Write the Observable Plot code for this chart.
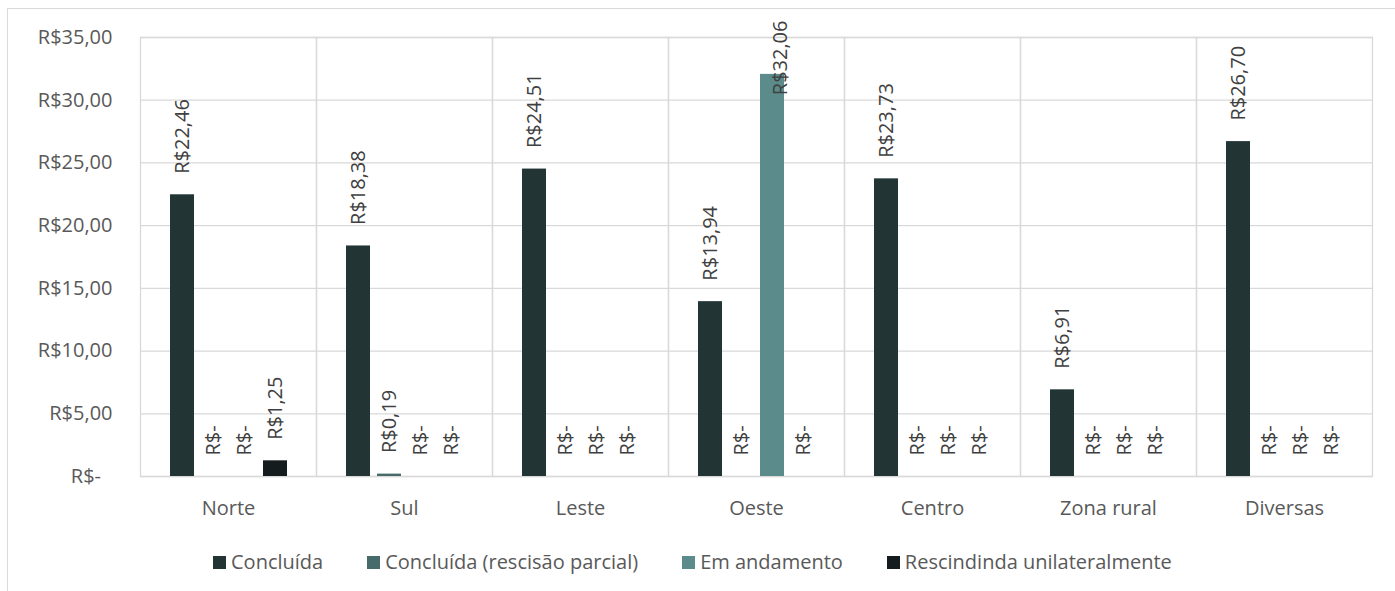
<!DOCTYPE html>
<html>
<head>
<meta charset="utf-8">
<script src="https://cdn.jsdelivr.net/npm/d3@7"></script>
<script src="https://cdn.jsdelivr.net/npm/@observablehq/plot@0.6"></script>
<style>
  html, body { margin: 0; padding: 0; background: #fff; }
  #wrap { position: relative; width: 1395px; height: 591px; overflow: hidden; font-family: "Open Sans", sans-serif; }
  #box { position: absolute; left: 7px; top: 8px; width: 1400px; height: 600px; border: 1.5px solid #d9d9d9; box-sizing: border-box; }
  #chart { position: absolute; left: 0; top: 0; }
  #legend { position: absolute; left: 213px; top: 550px; display: flex; gap: 44px; align-items: center; font-size: 20px; line-height: 24px; color: #595959; }
  .item { display: flex; align-items: center; gap: 5px; }
  .sw { width: 13px; height: 13px; display: inline-block; }
</style>
</head>
<body>
<div id="wrap">
  <div id="box"></div>
  <div id="chart"></div>
  <div id="legend"></div>
</div>
<script>
const regions = ["Norte", "Sul", "Leste", "Oeste", "Centro", "Zona rural", "Diversas"];
const series = ["Concluída", "Concluída (rescisão parcial)", "Em andamento", "Rescindinda unilateralmente"];
const concluida = [22.46, 18.38, 24.51, 13.94, 23.73, 6.91, 26.70];
const parcial = [0, 0.19, 0, 0, 0, 0, 0];
const andamento = [0, 0, 0, 32.06, 0, 0, 0];
const rescindida = [1.25, 0, 0, 0, 0, 0, 0];
const colors = ["#223434", "#476b6b", "#5b8b8b", "#141c1d"];
const yTicks = [0, 5, 10, 15, 20, 25, 30, 35];

const seriesValues = [concluida, parcial, andamento, rescindida];
const data = [];
regions.forEach((r, i) => {
  series.forEach((s, j) => data.push({region: r, series: s, value: seriesValues[j][i]}));
});

const fmt = v => v === 0 ? "R$-" : "R$" + v.toFixed(2).replace(".", ",");
const axisFmt = v => v === 0 ? "R$-\u2007" : "R$" + v.toFixed(2).replace(".", ",");

const TOPCUT = 30;

const chart = Plot.plot({
  width: 1395,
  height: 530,
  marginLeft: 138,
  marginRight: 21,
  marginTop: 37,
  marginBottom: 54,
  style: {fontFamily: "Open Sans, sans-serif", fontSize: "20px", color: "#595959", background: "transparent"},
  fx: {domain: regions, padding: 0, axis: "bottom", tickSize: 0, tickPadding: 24, label: null},
  x: {domain: series, paddingInner: 0.234, paddingOuter: 0.875, axis: null},
  y: {domain: [0, 35], ticks: yTicks, tickFormat: axisFmt, tickSize: 0, tickPadding: 28, label: null},
  color: {domain: series, range: colors},
  marks: [
    Plot.ruleY(yTicks, {stroke: "#d9d9d9", strokeWidth: 1.3}),
    Plot.frame({stroke: "#d9d9d9", strokeWidth: 1.3}),
    Plot.barY(data, {fx: "region", x: "series", y: "value", fill: "series"}),
    Plot.text(data.filter(d => d.value < TOPCUT), {
      fx: "region", x: "series", y: "value", text: d => fmt(d.value),
      rotate: -90, textAnchor: "start", dy: -21, fontSize: 20, fill: "#404040"
    }),
    Plot.text(data.filter(d => d.value >= TOPCUT), {
      fx: "region", x: "series", frameAnchor: "top", text: d => fmt(d.value),
      rotate: -90, textAnchor: "end", dy: -17, fontSize: 20, fill: "#404040"
    })
  ]
});
chart.style.overflow = "visible";
document.getElementById("chart").appendChild(chart);

const legend = document.getElementById("legend");
series.forEach((s, i) => {
  const item = document.createElement("div");
  item.className = "item";
  const sw = document.createElement("span");
  sw.className = "sw";
  sw.style.background = colors[i];
  const t = document.createElement("span");
  t.textContent = s;
  item.appendChild(sw);
  item.appendChild(t);
  legend.appendChild(item);
});
</script>
</body>
</html>
